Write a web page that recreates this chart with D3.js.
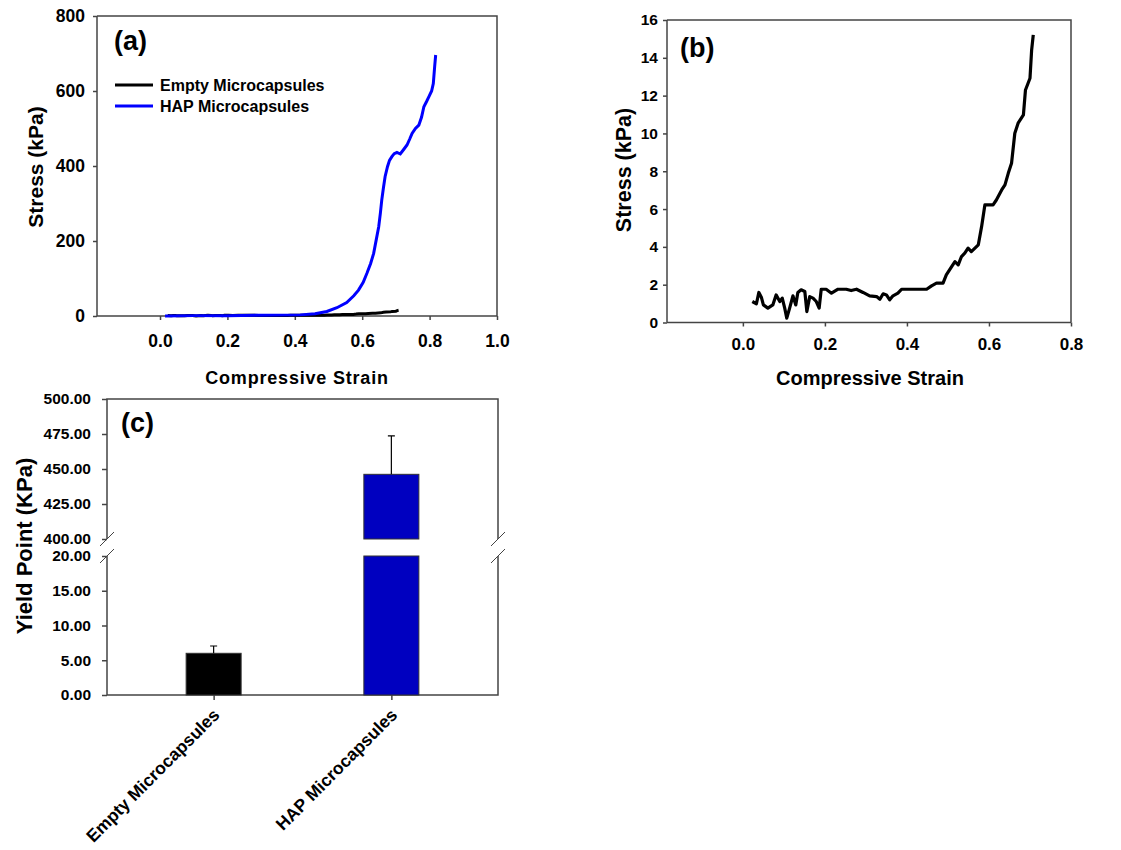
<!DOCTYPE html>
<html>
<head>
<meta charset="utf-8">
<script src="https://cdn.jsdelivr.net/npm/d3@7"></script>
<style>
    body { margin: 0; background: #fff; }
    svg text { font-family: Arial, "Liberation Sans", sans-serif; font-weight: bold; fill: #000; }
    .axis path, .axis line { stroke: #444; stroke-width: 1.5; }
</style>
</head>
<body>
<svg id="chart" width="1121" height="850"></svg>
<script>
// panel (a) - HAP microcapsules stress/strain
const hapStrain = [0.015, 0.10, 0.20, 0.30, 0.416, 0.46, 0.495, 0.525, 0.554, 0.575, 0.589, 0.603, 0.614, 0.625, 0.634, 0.642, 0.649, 0.654, 0.658, 0.663, 0.668, 0.675, 0.681, 0.688, 0.695, 0.703, 0.713, 0.723, 0.733, 0.741, 0.748, 0.758, 0.768, 0.776, 0.783, 0.791, 0.798, 0.806, 0.811, 0.815, 0.818];
const hapStress = [0, 1, 1, 2, 3, 6, 12, 22, 36, 54, 69, 90, 114, 140, 167, 205, 238, 275, 309, 342, 372, 398, 415, 425, 433, 436, 432, 444, 456, 472, 487, 500, 509, 530, 558, 572, 585, 600, 620, 665, 696];

// empty microcapsules (used in (a) and (b))
const emptyStrain = [0.023, 0.033, 0.039, 0.045, 0.050, 0.061, 0.073, 0.081, 0.090, 0.096, 0.102, 0.107, 0.114, 0.122, 0.129, 0.134, 0.142, 0.151, 0.156, 0.163, 0.171, 0.179, 0.186, 0.191, 0.203, 0.216, 0.232, 0.252, 0.264, 0.277, 0.293, 0.309, 0.326, 0.334, 0.342, 0.350, 0.358, 0.366, 0.378, 0.387, 0.448, 0.460, 0.472, 0.488, 0.496, 0.509, 0.517, 0.525, 0.533, 0.541, 0.549, 0.557, 0.574, 0.582, 0.590, 0.610, 0.618, 0.631, 0.639, 0.647, 0.655, 0.663, 0.671, 0.684, 0.689, 0.700, 0.704, 0.708];
const emptyStress = [1.11, 0.99, 1.59, 1.34, 0.93, 0.76, 0.93, 1.46, 1.11, 1.29, 0.76, 0.23, 0.76, 1.41, 0.93, 1.59, 1.73, 1.64, 0.58, 1.37, 1.29, 1.11, 0.76, 1.76, 1.76, 1.55, 1.76, 1.76, 1.69, 1.76, 1.59, 1.41, 1.37, 1.23, 1.52, 1.46, 1.20, 1.41, 1.55, 1.76, 1.76, 1.94, 2.08, 2.08, 2.52, 2.96, 3.22, 3.05, 3.49, 3.67, 3.93, 3.75, 4.11, 5.07, 6.22, 6.22, 6.48, 7.01, 7.28, 7.89, 8.42, 10.01, 10.54, 10.98, 12.30, 12.92, 14.41, 15.21];

// panel (c) - yield point
const barCategories = ["Empty Microcapsules", "HAP Microcapsules"];
const barValues = [6.0, 446.2];
const barErrors = [1.05, 27.4];
const barColors = ["#000000", "#0000c0"];

const ticksA_x = [0.0, 0.2, 0.4, 0.6, 0.8, 1.0];
const ticksA_y = [0, 200, 400, 600, 800];
const ticksB_x = [0.0, 0.2, 0.4, 0.6, 0.8];
const ticksB_y = [0, 2, 4, 6, 8, 10, 12, 14, 16];
const ticksC_low = [0, 5, 10, 15, 20];
const ticksC_high = [400, 425, 450, 475, 500];

const svg = d3.select("#chart");

function frame(g, x0, x1, y0, y1) {
    g.append("path")
        .attr("d", `M${x0},${y0}H${x1}V${y1}`)
        .attr("fill", "none").attr("stroke", "#444").attr("stroke-width", 1.5);
}

function styleAxis(sel, size) {
    sel.attr("class", "axis");
    sel.select(".domain").remove();
    sel.selectAll("text").style("font-size", size + "px");
}

// ---------- (a) ----------
{
    const x = d3.scaleLinear().domain([-0.187, 1.0]).range([97, 497]);
    const y = d3.scaleLinear().domain([0, 800]).range([316, 16]);
    const g = svg.append("g");

    g.append("g").attr("transform", "translate(0,316)")
        .call(d3.axisBottom(x).tickValues(ticksA_x).tickFormat(d3.format(".1f")).tickSize(4).tickPadding(15))
        .call(s => styleAxis(s, 17.5));
    g.append("g").attr("transform", "translate(97,0)")
        .call(d3.axisLeft(y).tickValues(ticksA_y).tickFormat(d3.format("d")).tickSize(4).tickPadding(8))
        .call(s => styleAxis(s, 17.5));
    g.append("path").attr("d", "M97,316V16").attr("stroke", "#444").attr("stroke-width", 1.5);
    g.append("path").attr("d", "M97,316H497").attr("stroke", "#444").attr("stroke-width", 1.5);
    frame(g, 97, 497, 16, 316);

    const line = d3.line().x(d => x(d[0])).y(d => y(d[1]));
    g.append("path").datum(d3.zip(emptyStrain, emptyStress))
        .attr("d", line).attr("fill", "none").attr("stroke", "#000").attr("stroke-width", 3);
    g.append("path").datum(d3.zip(hapStrain, hapStress))
        .attr("d", line).attr("fill", "none").attr("stroke", "#0000ff").attr("stroke-width", 3);

    // legend
    const leg = [["Empty Microcapsules", "#000"], ["HAP Microcapsules", "#0000ff"]];
    leg.forEach((l, i) => {
        const yy = 85 + i * 21;
        g.append("line").attr("x1", 115).attr("x2", 153).attr("y1", yy).attr("y2", yy)
            .attr("stroke", l[1]).attr("stroke-width", 3);
        g.append("text").attr("x", 160).attr("y", yy + 6).style("font-size", "16px").text(l[0]);
    });

    g.append("text").attr("x", 114).attr("y", 50).style("font-size", "27px").text("(a)");
    g.append("text").attr("x", 297).attr("y", 384).attr("text-anchor", "middle")
        .style("font-size", "18px").style("letter-spacing", "0.8px").text("Compressive Strain");
    g.append("text").attr("transform", "translate(43,167) rotate(-90)").attr("text-anchor", "middle")
        .style("font-size", "21px").text("Stress (kPa)");
}

// ---------- (b) ----------
{
    const x = d3.scaleLinear().domain([-0.185, 0.8]).range([667, 1071]);
    const y = d3.scaleLinear().domain([0, 16]).range([322.5, 20]);
    const g = svg.append("g");

    g.append("g").attr("transform", "translate(0,322.5)")
        .call(d3.axisBottom(x).tickValues(ticksB_x).tickFormat(d3.format(".1f")).tickSize(4).tickPadding(11))
        .call(s => styleAxis(s, 17));
    g.append("g").attr("transform", "translate(667,0)")
        .call(d3.axisLeft(y).tickValues(ticksB_y).tickFormat(d3.format("d")).tickSize(4).tickPadding(5))
        .call(s => styleAxis(s, 15.5));
    g.append("path").attr("d", "M667,322.5V20").attr("stroke", "#444").attr("stroke-width", 1.5);
    g.append("path").attr("d", "M667,322.5H1071").attr("stroke", "#444").attr("stroke-width", 1.5);
    frame(g, 667, 1071, 20, 322.5);

    const line = d3.line().x(d => x(d[0])).y(d => y(d[1]));
    g.append("path").datum(d3.zip(emptyStrain, emptyStress))
        .attr("d", line).attr("fill", "none").attr("stroke", "#000").attr("stroke-width", 3.2)
        .attr("stroke-linejoin", "round");

    g.append("text").attr("x", 680).attr("y", 57).style("font-size", "27px").text("(b)");
    g.append("text").attr("x", 870).attr("y", 385).attr("text-anchor", "middle")
        .style("font-size", "20px").text("Compressive Strain");
    g.append("text").attr("transform", "translate(631,170) rotate(-90)").attr("text-anchor", "middle")
        .style("font-size", "21.5px").text("Stress (kPa)");
}

// ---------- (c) ----------
{
    const left = 107, right = 498;
    const x = d3.scalePoint().domain(barCategories).range([left, right]).padding(0.6);
    const yLow = d3.scaleLinear().domain([0, 20]).range([695, 556]);
    const yHigh = d3.scaleLinear().domain([400, 500]).range([539, 399]);
    const bw = 55;
    const g = svg.append("g");

    g.append("g").attr("transform", "translate(0,695)")
        .call(d3.axisBottom(x).tickSize(5).tickFormat(""))
        .call(s => styleAxis(s, 16));
    g.append("g").attr("transform", `translate(${left},0)`)
        .call(d3.axisLeft(yLow).tickValues(ticksC_low).tickFormat(d3.format(".2f")).tickSize(5).tickPadding(11))
        .call(s => styleAxis(s, 15.5));
    g.append("g").attr("transform", `translate(${left},0)`)
        .call(d3.axisLeft(yHigh).tickValues(ticksC_high).tickFormat(d3.format(".2f")).tickSize(5).tickPadding(11))
        .call(s => styleAxis(s, 15.5));

    const ax = "#444";
    // broken box
    g.append("path").attr("d", `M${left},${yLow(20)}V695H${right}V${yLow(20)}`)
        .attr("fill", "none").attr("stroke", ax).attr("stroke-width", 1.5);
    g.append("path").attr("d", `M${left},${yHigh(400)}V399H${right}V${yHigh(400)}`)
        .attr("fill", "none").attr("stroke", ax).attr("stroke-width", 1.5);
    // break marks
    [yHigh(400), yLow(20)].forEach(yy => {
        [left, right].forEach(xx => {
            g.append("line").attr("x1", xx - 7).attr("x2", xx + 7).attr("y1", yy + 7).attr("y2", yy - 7)
                .attr("stroke", ax).attr("stroke-width", 1);
        });
    });

    barCategories.forEach((c, i) => {
        const cx = x(c), v = barValues[i], e = barErrors[i];
        let topY;
        if (v <= 20) {
            topY = yLow(v);
            g.append("rect").attr("x", cx - bw / 2).attr("y", topY).attr("width", bw).attr("height", yLow(0) - topY)
                .attr("fill", barColors[i]).attr("stroke", "#333").attr("stroke-width", 1);
            const ey = yLow(v + e);
            g.append("path").attr("d", `M${cx},${topY}V${ey}M${cx - 3.5},${ey}H${cx + 3.5}`)
                .attr("stroke", "#000").attr("stroke-width", 1.2);
        } else {
            g.append("rect").attr("x", cx - bw / 2).attr("y", yLow(20)).attr("width", bw).attr("height", yLow(0) - yLow(20))
                .attr("fill", barColors[i]).attr("stroke", "#333").attr("stroke-width", 1);
            topY = yHigh(v);
            g.append("rect").attr("x", cx - bw / 2).attr("y", topY).attr("width", bw).attr("height", yHigh(400) - topY)
                .attr("fill", barColors[i]).attr("stroke", "#333").attr("stroke-width", 1);
            const ey = yHigh(v + e);
            g.append("path").attr("d", `M${cx},${topY}V${ey}M${cx - 3.5},${ey}H${cx + 3.5}`)
                .attr("stroke", "#000").attr("stroke-width", 1.2);
        }
        g.append("text").attr("transform", `translate(${cx + 7},${716}) rotate(-45)`)
            .attr("text-anchor", "end").style("font-size", "17.5px").text(c);
    });

    g.append("text").attr("x", 121).attr("y", 432).style("font-size", "27px").text("(c)");
    g.append("text").attr("transform", "translate(32,546) rotate(-90)").attr("text-anchor", "middle")
        .style("font-size", "22px").text("Yield Point (KPa)");
}
</script>
</body>
</html>
